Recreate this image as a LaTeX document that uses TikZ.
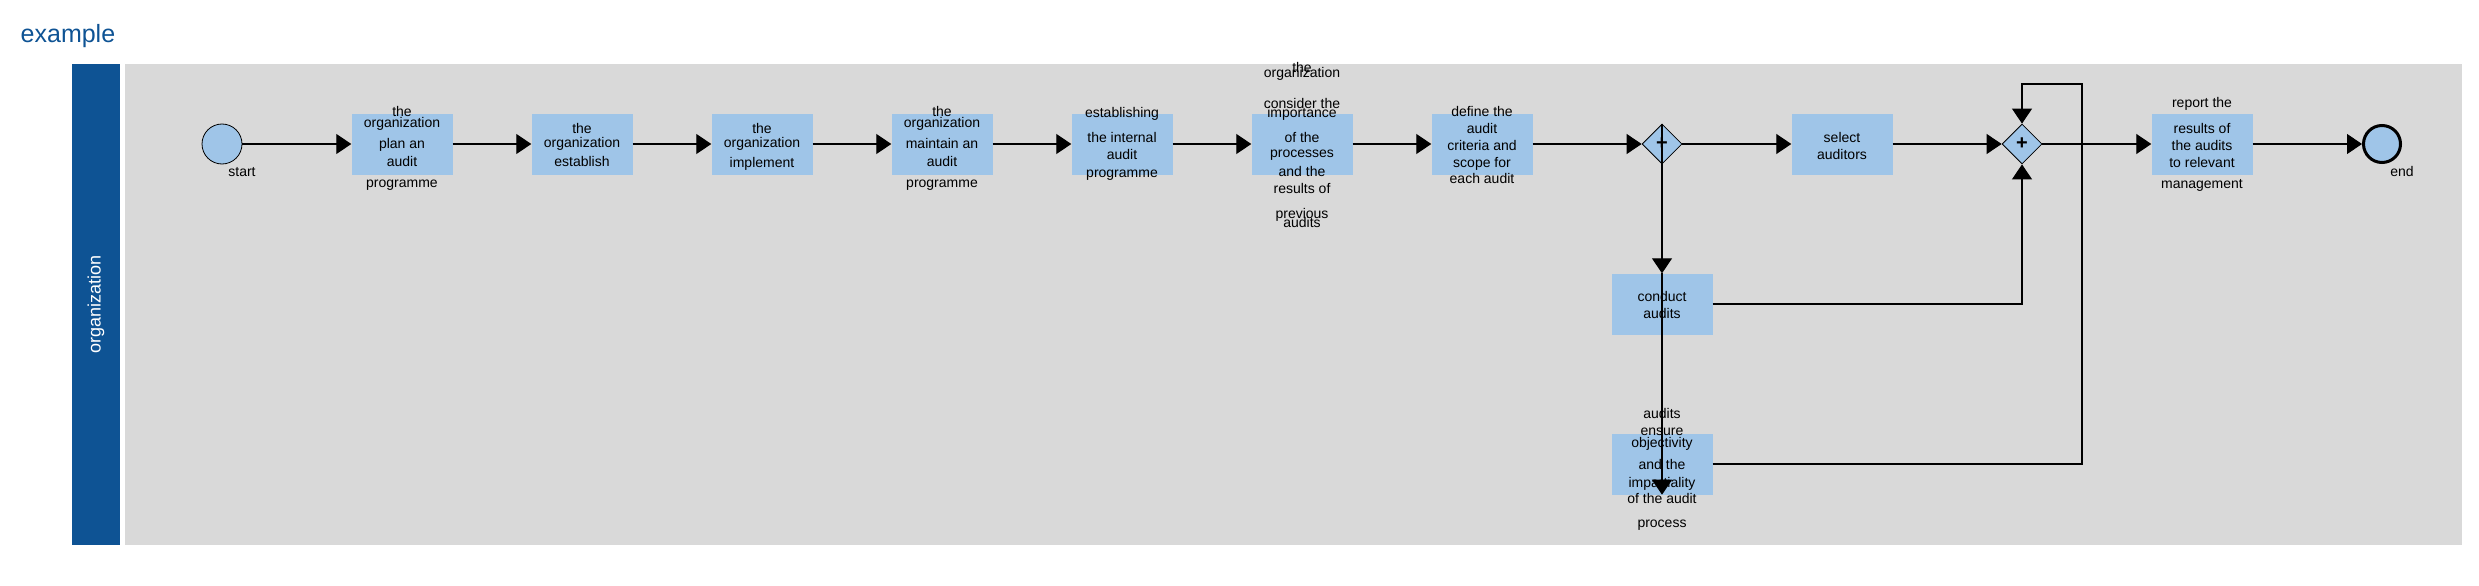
\documentclass[tikz,border=0pt]{standalone}
\usepackage{fontspec}
\setmainfont{Liberation Sans}
\usepackage{xcolor}
\usetikzlibrary{arrows.meta,positioning,shapes.geometric}
\definecolor{laneblue}{RGB}{14,83,148}
\definecolor{taskblue}{RGB}{159,197,232}
\definecolor{poolgray}{RGB}{217,217,217}
\newcommand{\gwplus}{{\fontsize{20}{20}\selectfont\bfseries +}}
\tikzset{%
	task/.style     = {rectangle, fill=taskblue, minimum width=101pt, minimum height=61pt, inner sep=0pt},
	event/.style    = {circle, draw, fill=taskblue, minimum size=40pt, inner sep=0pt, line width=0.8pt}, % start
	endevent/.style = {event, minimum size=37pt, line width=3pt}, % end
	gateway/.style  = {diamond, draw, fill=taskblue, minimum width=40pt, minimum height=40pt, inner sep=0pt, line width=0.8pt},
	lbl/.style      = {align=center, inner sep=0pt, font=\fontsize{14}{17}\selectfont},
	flow/.style     = {line width=1.1pt, -{Triangle[length=15pt,width=20pt]}},
}

\begin{document}
\begin{tikzpicture}[x=1pt, y=1pt, node distance=180pt]
	\useasboundingbox (0,0) rectangle (2479,-586);
	% pool and lane
	\node[anchor=base west, inner sep=0pt, text=laneblue, font=\fontsize{25}{30}\selectfont] (title) at (20.5,-43) {example};
	\node[fill=laneblue, minimum width=48pt, minimum height=481pt, inner sep=0pt] (lane) at (96,-304.5) {};
	\node[rotate=90, text=white, font=\fontsize{18}{20}\selectfont] (lanetitle) at (lane.center) {organization};
	\node[fill=poolgray, minimum width=2337pt, minimum height=481pt, inner sep=0pt] (pool) at (1293.5,-304.5) {};
	% main row
	\node[event] (start) at (222,-144) {};
	\node[task] (p1) [right of=start] {};
	\node[task] (p2) [right of=p1] {};
	\node[task] (p3) [right of=p2] {};
	\node[task] (p4) [right of=p3] {};
	\node[task] (p5) [right of=p4] {};
	\node[task] (p6) [right of=p5] {};
	\node[task] (p7) [right of=p6] {};
	\node[gateway] (gw1) [right of=p7] {\gwplus};
	\node[task] (p8) [right of=gw1] {};
	\node[gateway] (gw2) [right of=p8] {\gwplus};
	\node[task] (p9) [right of=gw2] {};
	\node[endevent] (stop) [right of=p9] {};
	\node[task] (conduct) [below of=gw1, node distance=160pt] {};
	\node[task] (ensure) [below of=conduct, node distance=160pt] {};
	% labels
	\node[lbl, anchor=base] (tstart) at ([xshift=20pt,yshift=-32pt]start.center) {start};
	\node[lbl, anchor=base] (tstop) at ([xshift=20pt,yshift=-32pt]stop.center) {end};
	\node[lbl, anchor=north] (t1) at ([yshift=37.7pt]p1.center) {the\\[-6pt]organization\\[4pt]plan an\\[1pt]audit\\[4pt]programme};
	\node[lbl, anchor=north] (t2) at ([yshift=20.9pt]p2.center) {the\\[-2.5pt]organization\\[2pt]establish};
	\node[lbl, anchor=north] (t3) at ([yshift=20.9pt]p3.center) {the\\[-2.5pt]organization\\[2.7pt]implement};
	\node[lbl, anchor=north] (t4) at ([yshift=37.7pt]p4.center) {the\\[-6pt]organization\\[4pt]maintain an\\[1pt]audit\\[4pt]programme};
	\node[lbl, anchor=north] (t5) at ([yshift=36.4pt]p5.center) {establishing\\[7.5pt]the internal\\audit\\[1.5pt]programme};
	\node[lbl, anchor=north] (t6) at ([yshift=81.9pt]p6.center) {the\\[-11.5pt]organization\\[13.5pt]consider the\\[-7.5pt]importance\\[7.5pt]of the\\[-1.5pt]processes\\[1.2pt]and the\\results of\\[8pt]previous\\[-7.5pt]audits};
	\node[lbl, anchor=north] (t7) at ([yshift=38.2pt]p7.center) {define the\\audit\\criteria and\\scope for\\[-0.8pt]each audit};
	\node[lbl, anchor=north] (t8) at ([yshift=11.9pt]p8.center) {select\\auditors};
	\node[lbl, anchor=north] (t9) at ([yshift=46.7pt]p9.center) {report the\\[8.8pt]results of\\the audits\\to relevant\\[4pt]management};
	\node[lbl, anchor=north] (tconduct) at ([yshift=12.4pt]conduct.center) {conduct\\audits};
	\node[lbl, anchor=north] (tensure) at ([yshift=55.7pt]ensure.center) {audits\\ensure\\[-5.2pt]objectivity\\[5.5pt]and the\\[0.8pt]impartiality\\[-0.8pt]of the audit\\[6.5pt]process};
	% sequence flows
	\draw[flow] (start) -- (p1);
	\draw[flow] (p1) -- (p2);
	\draw[flow] (p2) -- (p3);
	\draw[flow] (p3) -- (p4);
	\draw[flow] (p4) -- (p5);
	\draw[flow] (p5) -- (p6);
	\draw[flow] (p6) -- (p7);
	\draw[flow] (p7) -- (gw1);
	\draw[flow] (gw1) -- (p8);
	\draw[flow] (gw1.north) -- (conduct.north);
	\draw[flow] (conduct.north) -- (ensure.south);
	\draw[flow] (p8) -- (gw2);
	\draw[flow] (conduct.east) -| (gw2.south);
	\coordinate (loop) at ([xshift=60pt,yshift=60pt]gw2.center);
	\draw[flow] (ensure.east) -| (loop) -| (gw2.north);
	\draw[flow] (gw2) -- (p9);
	\draw[flow] (p9) -- (stop);
\end{tikzpicture}
\end{document}
